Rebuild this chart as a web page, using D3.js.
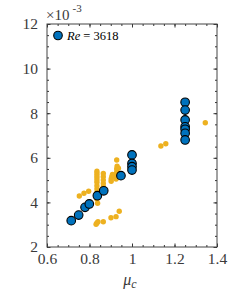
<!DOCTYPE html>
<html>
<head>
<meta charset="utf-8">
<script src="https://cdn.jsdelivr.net/npm/d3@7"></script>
<style>
  body { margin: 0; background: #fff; }
  svg { display: block; }
</style>
</head>
<body>
<svg width="240" height="291"></svg>
<script>
// blue series, Re = 3618 (mu_c, value x 1e-3)
const blueX = [0.714, 0.749, 0.779, 0.799, 0.837, 0.867, 0.948,
	1.0, 1.0, 1.0, 1.0,
	1.25, 1.25, 1.25, 1.25, 1.25, 1.25, 1.25];
const blueY = [3.18, 3.43, 3.78, 3.93, 4.30, 4.52, 5.20,
	6.13, 5.75, 5.60, 5.45,
	8.49, 8.14, 7.70, 7.39, 7.28, 7.10, 6.80];

// orange background points
const orangeX = [0.752, 0.774, 0.796,
	0.835, 0.835, 0.835, 0.835, 0.835, 0.835, 0.835, 0.835, 0.835, 0.835, 0.835, 0.838,
	0.865, 0.865, 0.865, 0.865, 0.865, 0.865,
	0.902, 0.902, 0.905, 0.908,
	0.925, 0.925, 0.928, 0.928, 0.93, 0.928, 0.936,
	0.831, 0.835, 0.84, 0.865, 0.901, 0.925, 0.94,
	1.136, 1.159, 1.345];
const orangeY = [4.29, 4.41, 4.50,
	4.15, 4.30, 4.45, 4.60, 4.75, 4.90, 5.00, 5.10, 5.20, 5.30, 5.40, 3.96,
	4.55, 4.70, 4.85, 5.00, 5.15, 5.30,
	4.95, 5.05, 5.15, 5.25,
	5.05, 5.20, 5.35, 5.50, 5.62, 5.90, 5.53,
	3.02, 3.08, 3.13, 3.13, 3.31, 3.36, 3.60,
	6.53, 6.63, 7.57];

const xTicks = [0.6, 0.8, 1, 1.2, 1.4];
const yTicks = [2, 4, 6, 8, 10, 12];
const legendLabel = "3618";

const serif = "Liberation Serif";
const textColor = "#3a3a3a";
const svg = d3.select("svg");
const margin = { left: 47, top: 24, right: 23, bottom: 44 };
const width = 240 - margin.left - margin.right,
	height = 291 - margin.top - margin.bottom;

const x = d3.scaleLinear().domain([0.6, 1.4]).range([0, width]);
const y = d3.scaleLinear().domain([2, 12]).range([height, 0]);

const g = svg.append("g").attr("transform", `translate(${margin.left},${margin.top})`);

const xMinor = d3.range(0.6, 1.4001, 0.05);
const yMinor = d3.range(2, 12.001, 0.5);

function addAxis(axis, transform, labels) {
	const a = g.append("g").attr("transform", transform).call(axis);
	a.select(".domain").remove();
	a.selectAll("line").attr("stroke", "#333");
	if (!labels) a.selectAll("text").remove();
	else a.selectAll("text")
		.style("font-family", serif)
		.style("font-size", "15.5px")
		.attr("fill", textColor);
	return a;
}

// minor ticks (all four sides)
addAxis(d3.axisBottom(x).tickValues(xMinor).tickSizeInner(-2).tickSizeOuter(0), `translate(0,${height})`, false);
addAxis(d3.axisTop(x).tickValues(xMinor).tickSizeInner(-2).tickSizeOuter(0), "translate(0,0)", false);
addAxis(d3.axisLeft(y).tickValues(yMinor).tickSizeInner(-2).tickSizeOuter(0), "translate(0,0)", false);
addAxis(d3.axisRight(y).tickValues(yMinor).tickSizeInner(-2).tickSizeOuter(0), `translate(${width},0)`, false);

// major ticks
addAxis(d3.axisBottom(x).tickValues(xTicks).tickFormat(d3.format("")).tickSizeInner(-3.5).tickSizeOuter(0).tickPadding(6), `translate(0,${height})`, true);
addAxis(d3.axisTop(x).tickValues(xTicks).tickSizeInner(-3.5).tickSizeOuter(0), "translate(0,0)", false);
addAxis(d3.axisLeft(y).tickValues(yTicks).tickFormat(d3.format("d")).tickSizeInner(-3.5).tickSizeOuter(0).tickPadding(9), "translate(0,0)", true);
addAxis(d3.axisRight(y).tickValues(yTicks).tickSizeInner(-3.5).tickSizeOuter(0), `translate(${width},0)`, false);

g.append("rect")
	.attr("x", 0).attr("y", 0)
	.attr("width", width).attr("height", height)
	.attr("fill", "none").attr("stroke", "#444").attr("stroke-width", 1);

// points
const orange = orangeX.map((v, i) => ({ x: v, y: orangeY[i] }));
const blue = blueX.map((v, i) => ({ x: v, y: blueY[i] }));

g.append("g").selectAll("circle")
	.data(orange)
	.enter().append("circle")
	.attr("cx", d => x(d.x))
	.attr("cy", d => y(d.y))
	.attr("r", 2.7)
	.attr("fill", "#EDB120");

g.append("g").selectAll("circle")
	.data(blue)
	.enter().append("circle")
	.attr("cx", d => x(d.x))
	.attr("cy", d => y(d.y))
	.attr("r", 4.3)
	.attr("fill", "#0072BD")
	.attr("stroke", "#000")
	.attr("stroke-width", 1.1);

// legend
g.append("circle")
	.attr("cx", 11).attr("cy", 11.5)
	.attr("r", 4.3)
	.attr("fill", "#0072BD").attr("stroke", "#000").attr("stroke-width", 1.1);
const leg = g.append("text")
	.attr("x", 20).attr("y", 15.5)
	.style("font-family", serif)
	.style("font-size", "12.5px")
	.attr("fill", "#000");
leg.append("tspan").attr("font-style", "italic").text("Re");
leg.append("tspan").text(" = " + legendLabel);

// exponent label
const ex = svg.append("text")
	.attr("x", 46).attr("y", 20)
	.style("font-family", serif)
	.style("font-size", "15px")
	.attr("fill", textColor);
ex.append("tspan").text("\u00d710");
ex.append("tspan").attr("dx", 3).attr("dy", -8).style("font-size", "11px").text("-3");

// x label
const xl = svg.append("text")
	.attr("x", margin.left + width / 2 - 2).attr("y", 285)
	.attr("text-anchor", "middle")
	.style("font-family", serif)
	.style("font-size", "16px")
	.attr("fill", textColor);
xl.append("tspan").attr("font-style", "italic").text("\u03bc");
xl.append("tspan").attr("font-style", "italic").style("font-size", "12px").attr("dy", 3).text("c");
</script>
</body>
</html>
